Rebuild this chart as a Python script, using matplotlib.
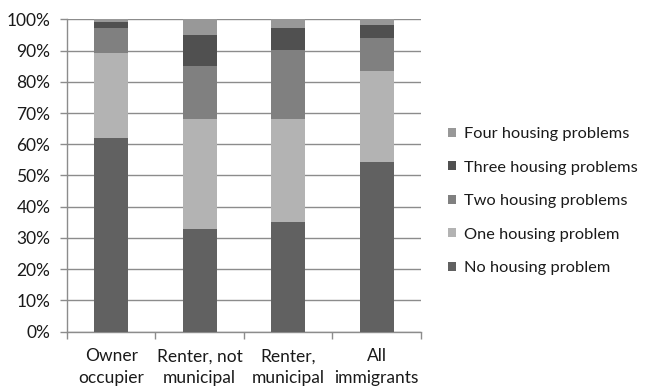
import matplotlib
matplotlib.use("Agg")
import matplotlib.pyplot as plt
import numpy as np

# Housing problems by tenure (share of households, %)
categorias = ["Owner\noccupier", "Renter, not\nmunicipal", "Renter,\nmunicipal", "All\nimmigrants"]
series = ["No housing problem", "One housing problem", "Two housing problems",
          "Three housing problems", "Four housing problems"]
no_problem = [62.0, 33.0, 35.0, 54.4]
one_problem = [27.2, 35.1, 33.1, 29.0]
two_problems = [7.9, 17.0, 22.1, 10.7]
three_problems = [1.9, 10.0, 7.0, 4.1]
four_problems = [1.0, 4.9, 2.8, 1.8]
colores = ["#616161", "#b3b3b3", "#808080", "#505050", "#989898"]
ytick_labels = ["0%", "10%", "20%", "30%", "40%", "50%", "60%", "70%", "80%", "90%", "100%"]

plt.rcParams["font.family"] = ["Lato", "DejaVu Sans"]

fig = plt.figure(figsize=(6.51, 3.88), dpi=100)
ax = fig.add_axes([0.1029, 0.1451, 0.5438, 0.8052])

x = np.arange(len(categorias))
datos = [no_problem, one_problem, two_problems, three_problems, four_problems]
base = np.zeros(len(categorias))
barras = []
for valores, nombre, color in zip(datos, series, colores):
    b = ax.bar(x, valores, width=0.385, bottom=base, color=color, label=nombre,
               edgecolor="none", zorder=3)
    barras.append(b)
    base = base + np.array(valores)

# Ejes y rejilla
ax.set_xlim(-0.5, len(categorias) - 0.5)
ax.set_ylim(0, 100)
ax.set_yticks(np.arange(0, 101, 10))
ax.set_yticklabels(ytick_labels)
ax.yaxis.grid(True, color="#8c8c8c", linewidth=1.0, zorder=0)
ax.set_xticks(x)
ax.set_xticklabels(categorias, linespacing=1.42)
ax.set_xticks(np.arange(-0.5, len(categorias), 1), minor=True)
ax.tick_params(axis="x", which="major", length=0, pad=12, labelsize=12.5, colors="#1a1a1a")
ax.tick_params(axis="x", which="minor", length=5, width=1, color="#8c8c8c", direction="out")
ax.tick_params(axis="y", length=5, width=1, color="#8c8c8c", labelsize=12.5,
               labelcolor="#1a1a1a", pad=7)
for lado in ["top", "right"]:
    ax.spines[lado].set_visible(False)
for lado in ["left", "bottom"]:
    ax.spines[lado].set_color("#8c8c8c")
    ax.spines[lado].set_linewidth(1)

# Leyenda en orden inverso
handles = [b[0] for b in barras][::-1]
labels = series[::-1]
ax.legend(handles, labels, loc="center left", bbox_to_anchor=(1.035, 0.418),
          frameon=False, fontsize=11.8, labelspacing=1.19, handlelength=0.5,
          handleheight=0.5, handletextpad=0.45, labelcolor="#1a1a1a")

plt.savefig("out.png", dpi=100)
